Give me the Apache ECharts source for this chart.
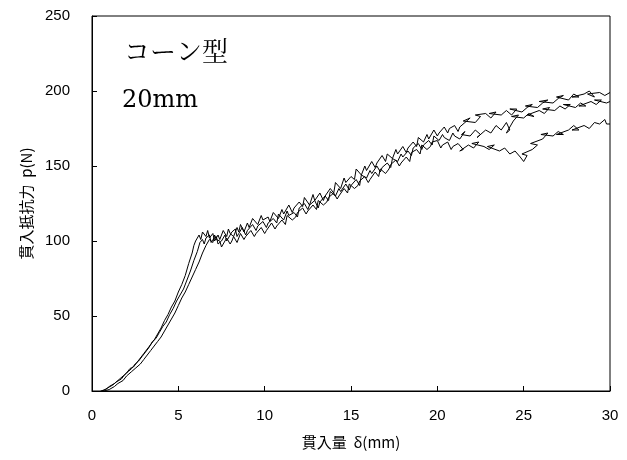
<!DOCTYPE html>
<html>
<head>
<meta charset="utf-8">
<script src="https://cdn.jsdelivr.net/npm/echarts@6/dist/echarts.min.js"></script>
<style>html,body{margin:0;padding:0;background:#fff}#c{width:627px;height:460px}</style>
</head>
<body>
<div id="c"></div>
<script>
var xTicks = [0, 5, 10, 15, 20, 25, 30];
var yTicks = [0, 50, 100, 150, 200, 250];
var titleLine1 = "コーン型";
var titleLine2 = "20mm";
var xName = "貫入量  δ(mm)";
var yName = "貫入抵抗力  p(N)";

var curveA = [[0.5,0],[0.8,1],[1.0,3],[1.3,5],[1.5,7],[1.8,10],[2.0,12],[2.2,15],[2.4,16],[2.6,19],[2.8,22],[3.0,25],[3.2,28],[3.4,31],[3.6,34],[3.8,38],[4.0,42],[4.2,47],[4.4,51],[4.6,56],[4.8,60],[5.0,66],[5.2,71],[5.4,77],[5.6,85],[5.8,92],[5.9,97],[6.0,100],[6.2,104],[6.3,101],[6.4,106],[6.6,103],[6.7,107],[6.8,102],[7.0,105],[7.1,100],[7.3,104],[7.4,101],[7.6,107],[7.8,103],[7.9,108],[8.0,105],[8.2,103],[8.4,109],[8.5,106],[8.6,111],[8.8,106],[9.0,112],[9.1,109],[9.3,115],[9.6,111],[9.8,117],[9.9,114],[10.2,116],[10.3,113],[10.5,119],[10.8,115],[11.0,121],[11.1,118],[11.4,124],[11.6,119],[11.7,122],[12.0,126],[12.2,123],[12.3,129],[12.6,124],[12.8,131],[12.9,127],[13.2,132],[13.4,127],[13.5,130],[13.8,135],[14.0,132],[14.1,139],[14.4,135],[14.6,142],[14.7,139],[15.0,143],[15.2,141],[15.3,148],[15.6,144],[15.8,150],[15.9,147],[16.2,153],[16.4,149],[16.5,152],[16.8,157],[17.0,153],[17.1,158],[17.4,155],[17.6,161],[17.7,158],[18.0,163],[18.2,159],[18.3,162],[18.6,166],[18.8,163],[18.9,169],[19.2,166],[19.4,171],[19.5,168],[19.8,174],[20.0,170],[20.1,172],[20.4,176],[20.6,172],[20.7,175],[21.0,177],[21.2,173],[21.3,176],[21.6,179],[21.9,182],[21.5,180],[22.2,179],[22.5,183],[22.2,184],[22.8,185],[23.1,182],[23.4,186],[23.0,185],[23.7,184],[24.0,187],[24.3,184],[24.6,188],[24.2,188],[24.9,186],[25.2,189],[25.5,191],[25.1,190],[25.8,189],[26.1,192],[26.4,194],[25.9,193],[26.7,192],[27.0,195],[27.3,197],[26.9,196],[27.6,194],[27.9,198],[28.2,196],[27.8,196],[28.5,198],[28.8,200],[29.1,196],[28.7,198],[29.4,199],[29.7,197],[30,199]];

var curveB = [[0.6,0],[0.9,2],[1.2,4],[1.4,6],[1.7,8],[1.9,11],[2.1,13],[2.3,15],[2.5,18],[2.7,20],[2.9,23],[3.1,26],[3.3,29],[3.5,33],[3.7,35],[3.9,39],[4.1,43],[4.3,46],[4.5,51],[4.7,55],[4.9,60],[5.1,64],[5.3,68],[5.5,74],[5.7,80],[5.9,87],[6.1,93],[6.25,99],[6.4,101],[6.5,98],[6.6,102],[6.8,104],[6.9,99],[7.0,101],[7.2,103],[7.3,98],[7.5,100],[7.7,104],[7.8,100],[7.9,102],[8.1,106],[8.3,108],[8.4,103],[8.5,105],[8.7,109],[8.9,104],[9.0,107],[9.3,111],[9.5,107],[9.6,110],[9.9,113],[10.1,109],[10.2,112],[10.5,115],[10.7,112],[10.8,118],[11.1,114],[11.3,120],[11.4,117],[11.7,119],[11.9,116],[12.0,122],[12.3,125],[12.5,121],[12.6,124],[12.9,127],[13.1,122],[13.2,126],[13.5,130],[13.7,127],[13.8,133],[14.1,130],[14.3,135],[14.4,133],[14.7,138],[14.9,134],[15.0,137],[15.3,141],[15.5,137],[15.6,144],[15.9,142],[16.1,147],[16.2,145],[16.5,150],[16.7,146],[16.8,149],[17.1,152],[17.3,149],[17.4,155],[17.7,153],[17.9,158],[18.0,156],[18.3,160],[18.5,157],[18.6,162],[18.9,165],[19.1,161],[19.2,164],[19.5,167],[19.7,164],[19.8,170],[20.1,167],[20.3,171],[20.4,169],[20.7,167],[20.9,172],[21.0,170],[21.3,168],[21.6,173],[21.4,171],[21.9,170],[22.2,174],[22.5,171],[22.3,169],[22.8,174],[23.1,172],[23.4,177],[23.7,174],[24.0,179],[24.2,174],[24.0,172],[24.4,180],[24.7,184],[24.3,183],[25.0,182],[25.3,185],[25.6,183],[25.2,184],[25.9,187],[26.2,185],[26.5,189],[26.1,188],[26.8,187],[27.1,190],[27.4,188],[27.7,191],[27.3,191],[28.0,189],[28.3,192],[28.6,190],[28.2,190],[28.9,193],[29.2,191],[29.5,194],[29.1,194],[29.8,192],[30,193]];

var curveC = [[0.7,0],[1.0,1],[1.3,3],[1.5,5],[1.8,7],[2.0,10],[2.3,13],[2.5,15],[2.8,18],[3.0,21],[3.2,24],[3.4,27],[3.6,30],[3.8,33],[4.0,36],[4.2,40],[4.4,44],[4.6,48],[4.8,52],[5.0,57],[5.2,62],[5.3,61],[5.4,66],[5.6,71],[5.8,76],[5.9,75],[6.0,81],[6.2,86],[6.3,85],[6.4,92],[6.6,97],[6.8,101],[7.0,99],[7.1,104],[7.2,101],[7.4,100],[7.5,96],[7.6,98],[7.8,102],[8.0,98],[8.1,100],[8.2,103],[8.4,99],[8.6,105],[8.8,101],[8.9,103],[9.2,107],[9.4,103],[9.5,105],[9.8,109],[10.0,105],[10.1,107],[10.4,112],[10.6,108],[10.7,110],[11.0,114],[11.2,111],[11.3,117],[11.6,114],[11.8,116],[11.9,119],[12.2,122],[12.4,118],[12.5,120],[12.8,124],[13.0,121],[13.1,127],[13.4,124],[13.6,126],[13.7,129],[14.0,132],[14.2,128],[14.3,130],[14.6,135],[14.8,132],[14.9,138],[15.2,135],[15.4,137],[15.5,140],[15.8,143],[16.0,139],[16.1,141],[16.4,146],[16.6,143],[16.7,148],[17.0,145],[17.2,148],[17.3,151],[17.6,154],[17.8,150],[17.9,152],[18.2,156],[18.4,153],[18.5,159],[18.8,161],[19.0,158],[19.1,164],[19.4,161],[19.6,163],[19.7,166],[20.0,167],[20.2,162],[20.3,164],[20.6,166],[20.8,161],[20.9,163],[21.2,165],[21.5,161],[21.3,160],[21.8,164],[22.1,162],[22.4,166],[22.0,165],[22.7,163],[23.0,161],[23.3,164],[22.9,163],[23.6,160],[23.9,162],[24.2,158],[24.5,160],[24.8,156],[25.0,153],[25.2,157],[24.9,158],[25.5,161],[25.8,164],[25.4,165],[26.1,168],[26.4,172],[26.0,171],[26.7,170],[27.0,173],[27.3,171],[26.9,171],[27.6,174],[27.9,177],[28.2,174],[27.8,174],[28.5,177],[28.8,175],[29.1,179],[29.4,178],[29.7,181],[29.8,178],[30,178]];

var chart = echarts.init(document.getElementById('c'), null, {renderer: 'canvas'});
var cjk = 'Noto Sans CJK JP, sans-serif';
function mkSeries(d) {
  return {type: 'line', data: d, symbol: 'none', smooth: false, animation: false,
    lineStyle: {color: '#000', width: 1}};
}
chart.setOption({
  animation: false,
  backgroundColor: '#fff',
  grid: {left: 92, right: 17, top: 16, bottom: 69, show: true, borderColor: '#000', borderWidth: 1, backgroundColor: 'transparent'},
  xAxis: {
    type: 'value', min: xTicks[0], max: xTicks[xTicks.length - 1], interval: 5,
    name: xName, nameLocation: 'middle', nameGap: 44,
    nameTextStyle: {color: '#000', fontSize: 15, fontFamily: cjk},
    axisLine: {show: true, lineStyle: {color: '#000', width: 1}},
    axisTick: {show: true, inside: true, length: 5, lineStyle: {color: '#000'}},
    axisLabel: {margin: 17, color: '#000', fontSize: 15, fontFamily: 'Liberation Sans, Arial, sans-serif'},
    splitLine: {show: false}
  },
  yAxis: {
    type: 'value', min: yTicks[0], max: yTicks[yTicks.length - 1], interval: 50,
    name: yName, nameLocation: 'middle', nameGap: 52, nameRotate: 90,
    nameTextStyle: {color: '#000', fontSize: 15, fontFamily: cjk},
    axisLine: {show: true, lineStyle: {color: '#000', width: 1}},
    axisTick: {show: true, inside: true, length: 5, lineStyle: {color: '#000'}},
    axisLabel: {margin: 22, color: '#000', fontSize: 15, fontFamily: 'Liberation Sans, Arial, sans-serif'},
    splitLine: {show: false}
  },
  graphic: [
    {type: 'text', x: 124, y: 51, style: {text: titleLine1, fill: '#000', verticalAlign: 'middle', font: '26px "Noto Serif CJK JP", "Noto Sans CJK JP", serif'}},
    {type: 'text', x: 122, y: 101, style: {text: titleLine2, fill: '#000', verticalAlign: 'middle', font: '24px "DejaVu Serif", "Liberation Serif", serif'}}
  ],
  series: [mkSeries(curveA), mkSeries(curveB), mkSeries(curveC)]
});
</script>
</body>
</html>
